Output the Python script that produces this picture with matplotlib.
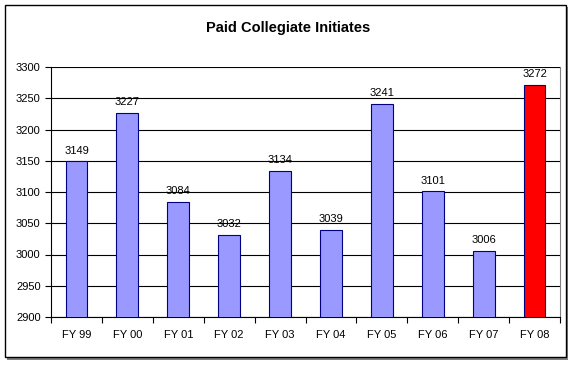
import matplotlib
matplotlib.use("Agg")
import matplotlib.pyplot as plt
from matplotlib.patches import Rectangle
import numpy as np

anos = ["FY 99", "FY 00", "FY 01", "FY 02", "FY 03", "FY 04", "FY 05", "FY 06", "FY 07", "FY 08"]
iniciados = [3149, 3227, 3084, 3032, 3134, 3039, 3241, 3101, 3006, 3272]
cores = ["#9999FF"] * 9 + ["#FF0000"]

plt.rcParams["font.family"] = ["Liberation Sans", "DejaVu Sans"]

fig = plt.figure(figsize=(5.77, 3.65), dpi=100)
W, H = 577, 365

# moldura externa com sombra
fig.patches.append(Rectangle((7 / W, 1 - 360 / H), 561 / W, 353 / H, transform=fig.transFigure,
                             facecolor="#808080", edgecolor="none", zorder=0))
fig.patches.append(Rectangle((5 / W, 1 - 357 / H), 561 / W, 352 / H, transform=fig.transFigure,
                             facecolor="white", edgecolor="black", linewidth=1, zorder=1))

ax = fig.add_axes([51 / W, 1 - 317 / H, 509 / W, 250 / H])
ax.set_zorder(2)
x = np.arange(len(anos))
ax.bar(x, iniciados, width=0.43, bottom=0, color=cores, edgecolor="#000080", linewidth=0.8, zorder=3)

for xi, v in zip(x, iniciados):
    ax.text(xi, v + 9, str(v), ha="center", va="bottom", fontsize=8, zorder=4)

ax.set_ylim(2900, 3300)
ax.set_xlim(-0.5, len(anos) - 0.5)
ax.set_yticks(range(2900, 3301, 50))
ax.yaxis.grid(True, color="black", linewidth=0.8, zorder=1)
ax.set_axisbelow(True)

ax.set_xticks(x)
ax.set_xticklabels(anos, fontsize=8)
ax.set_xticks(np.arange(-0.5, len(anos)), minor=True)
ax.tick_params(axis="x", which="major", length=0, pad=9)
ax.tick_params(axis="x", which="minor", length=4, direction="out", width=0.8)
ax.tick_params(axis="y", length=4, direction="out", width=0.8, labelsize=8)

ax.spines["top"].set_visible(False)
ax.spines["right"].set_color("#808080")
ax.spines["left"].set_linewidth(0.8)
ax.spines["bottom"].set_linewidth(0.8)

fig.text(0.5, 1 - 28 / H, "Paid Collegiate Initiates", ha="center", va="center",
         fontsize=10.5, fontweight="bold")

fig.savefig("out.png", dpi=100)
